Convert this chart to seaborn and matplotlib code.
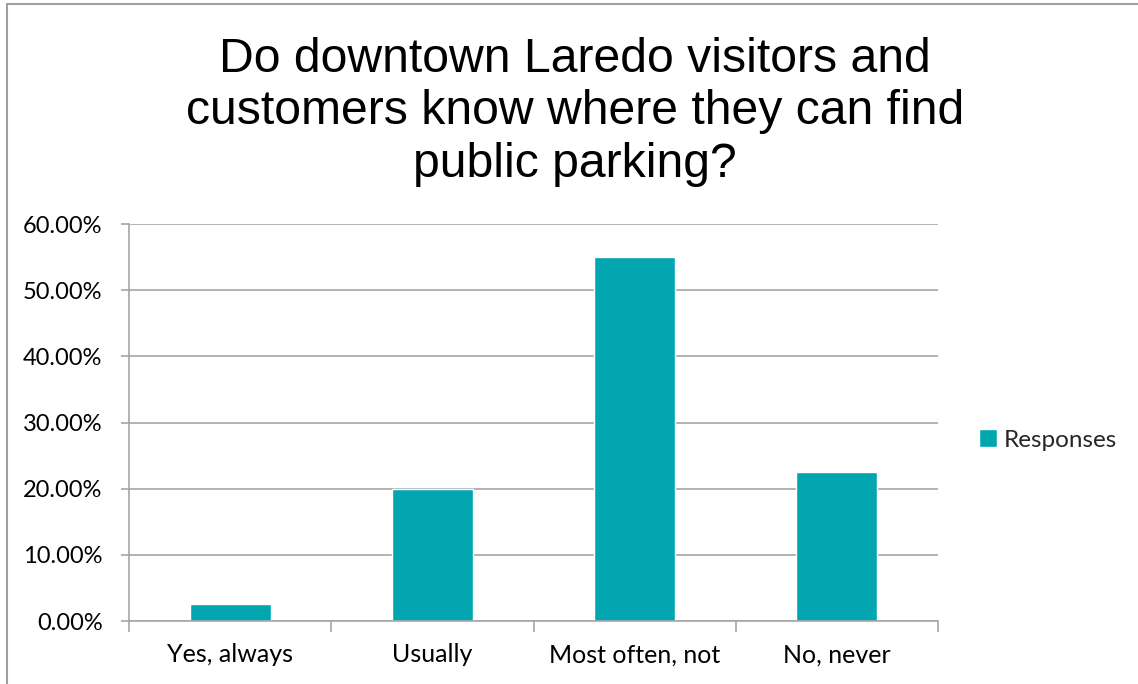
import matplotlib
matplotlib.use("Agg")
import matplotlib.pyplot as plt
import seaborn as sns
import pandas as pd
from matplotlib.ticker import FuncFormatter, FixedLocator
from matplotlib.patches import Rectangle

categories = ["Yes, always", "Usually", "Most often, not", "No, never"]
values = [0.025, 0.20, 0.55, 0.225]
series_name = "Responses"
title = "Do downtown Laredo visitors and\ncustomers know where they can find\npublic parking?"

sns.set_theme(style="white")
plt.rcParams['font.family'] = ['Lato', 'DejaVu Sans']

W, H = 1138, 684
fig = plt.figure(figsize=(W / 100, H / 100), dpi=100)
fig.patch.set_facecolor("white")

ax = fig.add_axes([129 / W, (H - 621) / H, (938 - 129) / W, (621 - 224) / H])
df = pd.DataFrame({"category": categories, "value": values})
bar_color = "#02A6B1"
sns.barplot(data=df, x="category", y="value", color=bar_color, width=0.4,
            saturation=1, ax=ax, label=series_name)

ax.set_ylim(0, 0.6)
ax.set_xlim(-0.5, len(categories) - 0.5)
ax.set_yticks([i / 10 for i in range(7)])
ax.yaxis.set_major_formatter(FuncFormatter(lambda v, p: f"{v*100:.2f}%"))
ax.set_xlabel("")
ax.set_ylabel("")

grid_c = "#A6A6A6"
ax.grid(axis="y", color=grid_c, linewidth=1.2)
ax.set_axisbelow(True)
for s in ["top", "right"]:
    ax.spines[s].set_visible(False)
for s in ["left", "bottom"]:
    ax.spines[s].set_color(grid_c)
    ax.spines[s].set_linewidth(1.2)

ax.tick_params(axis="y", which="major", length=6, color=grid_c, width=1.2,
               labelsize=17, pad=13, labelcolor="black", left=True)
ax.tick_params(axis="x", which="major", length=0, labelsize=18, pad=16, labelcolor="black")
ax.xaxis.set_minor_locator(FixedLocator([i - 0.5 for i in range(len(categories) + 1)]))
ax.tick_params(axis="x", which="minor", length=8, color=grid_c, width=1.2, bottom=True)

fig.text(575 / W, 1 - 112 / H, title, ha="center", va="center", fontsize=34.7,
         family=["Liberation Sans", "DejaVu Sans"], linespacing=1.21, color="black")

leg = ax.legend(loc="center left", bbox_to_anchor=(967 / W, 1 - 440 / H),
                bbox_transform=fig.transFigure, frameon=False, fontsize=17.5,
                handlelength=0.75, handleheight=0.75, handletextpad=0.25, borderpad=0)

fig.patches.append(Rectangle((7 / W, -0.05), 1.2, 1 - 4 / H + 0.05, transform=fig.transFigure,
                             fill=False, edgecolor="#A0A0A0", linewidth=1.5))

fig.savefig("out.png", dpi=100, facecolor="white")
